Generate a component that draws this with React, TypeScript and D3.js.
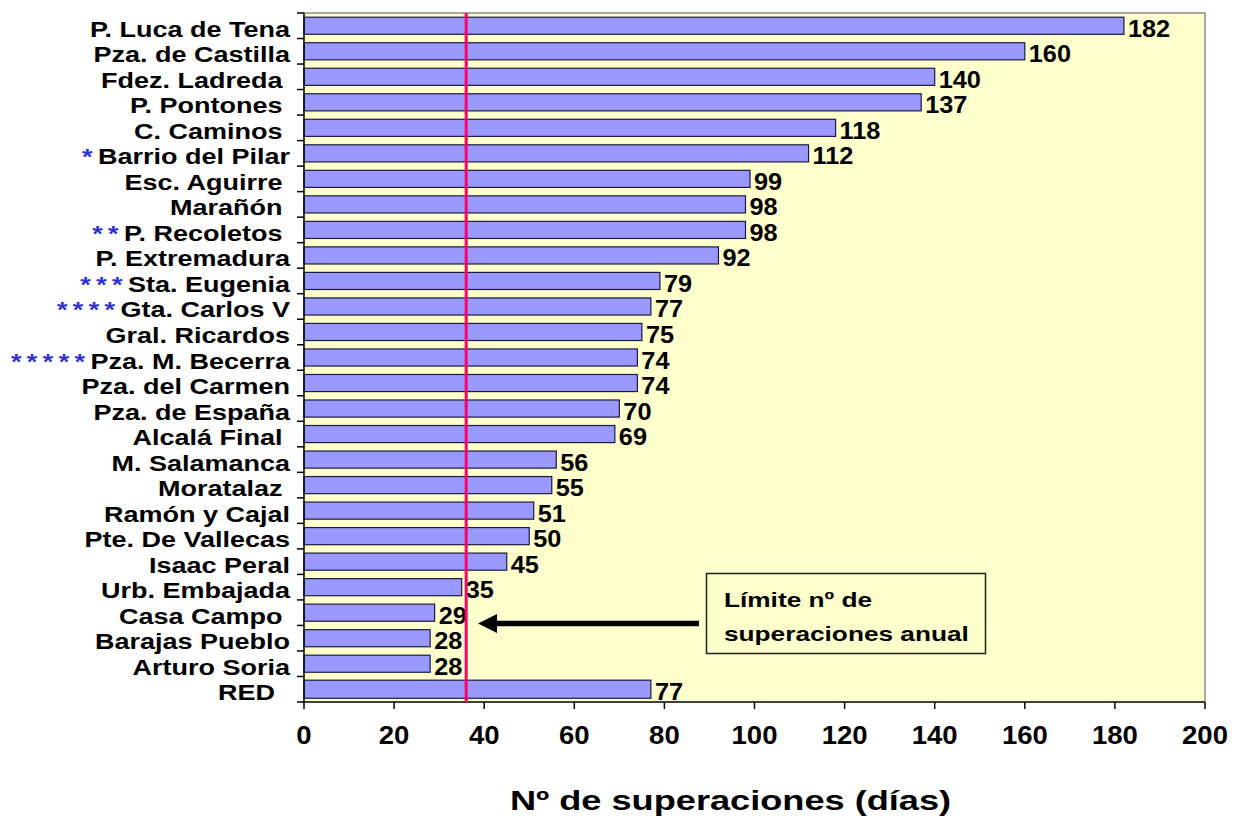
import React from "react";
import * as d3 from "d3";

// Stations, top to bottom
const stations = [
  "P. Luca de Tena",
  "Pza. de Castilla",
  "Fdez. Ladreda ",
  "P. Pontones ",
  "C. Caminos ",
  "Barrio del Pilar",
  "Esc. Aguirre ",
  "Marañón ",
  "P. Recoletos ",
  "P. Extremadura",
  "Sta. Eugenia",
  "Gta. Carlos V",
  "Gral. Ricardos",
  "Pza. M. Becerra",
  "Pza. del Carmen",
  "Pza. de España",
  "Alcalá Final ",
  "M. Salamanca",
  "Moratalaz ",
  "Ramón y Cajal",
  "Pte. De Vallecas",
  "Isaac Peral",
  "Urb. Embajada",
  "Casa Campo ",
  "Barajas Pueblo",
  "Arturo Soria",
  "RED  ",
];

// Footnote markers shown before some station names
const markers = [
  "", "", "", "", "", "*", "", "", "**", "", "***", "****", "", "*****",
  "", "", "", "", "", "", "", "", "", "", "", "", "",
];

// Days above the limit value
const exceedances = [
  182, 160, 140, 137, 118, 112, 99, 98, 98, 92, 79, 77, 75, 74, 74, 70, 69,
  56, 55, 51, 50, 45, 35, 29, 28, 28, 77,
];

const xTicks = [0, 20, 40, 60, 80, 100, 120, 140, 160, 180, 200];
const annualLimit = 36;
const noteLines = ["Límite nº de", "superaciones anual"];
const axisTitle = "Nº de superaciones (días)";

const W = 1235;
const H = 818;
const plot = { left: 304, right: 1205, top: 13, bottom: 702 };
const FONT = "'Liberation Sans', Arial, Helvetica, sans-serif";

export default function App() {
  const x = d3.scaleLinear().domain([0, 200]).range([plot.left, plot.right]);
  const y = d3
    .scaleBand<number>()
    .domain(d3.range(stations.length))
    .range([plot.top, plot.bottom])
    .paddingInner(0.33)
    .paddingOuter(0.165);
  const step = y.step();
  const boundaries = d3.range(stations.length + 1).map((i) => plot.top + i * step);

  const limitX = x(annualLimit);

  return (
    <svg
      width={W}
      height={H}
      style={{ position: "absolute", left: 0, top: 0, background: "#fff" }}
      fontFamily={FONT}
      fontWeight="bold"
    >
      {/* plot area */}
      <rect
        x={plot.left}
        y={plot.top}
        width={plot.right - plot.left}
        height={plot.bottom - plot.top}
        fill="#FFFFCC"
      />
      <path
        d={`M${plot.left},${plot.top}H${plot.right}V${plot.bottom}`}
        fill="none"
        stroke="#8c8c8c"
        strokeWidth={1.5}
      />

      {/* bars */}
      {exceedances.map((v, i) => {
        const isLast = i === stations.length - 1;
        const bw = y.bandwidth();
        const h = isLast ? bw + 1 : bw;
        const cy = (y(i) as number) + bw / 2;
        return (
          <rect
            key={i}
            x={x(0)}
            y={cy - h / 2}
            width={x(v) - x(0)}
            height={h}
            fill="#9999FF"
            stroke="#1a1a40"
            strokeWidth={1.2}
          />
        );
      })}

      {/* value labels */}
      {exceedances.map((v, i) => {
        const cy = (y(i) as number) + y.bandwidth() / 2;
        return (
          <text
            key={i}
            transform={`translate(${x(v) + 4},${cy + 11}) scale(1.1,1)`}
            fontSize={23}
            fill="#000"
          >
            {v}
          </text>
        );
      })}

      {/* category labels */}
      {stations.map((s, i) => {
        const cy = (y(i) as number) + y.bandwidth() / 2;
        return (
          <text
            key={i}
            transform={`translate(290,${cy + 11}) scale(1.2,1)`}
            textAnchor="end"
            fontSize={22.5}
            fill="#000"
            style={{ whiteSpace: "pre" }}
          >
            {markers[i] && (
              <tspan fill="#3333CC" letterSpacing={4.5}>
                {markers[i]}
              </tspan>
            )}
            {s}
          </text>
        );
      })}

      {/* axes */}
      <line x1={plot.left} x2={plot.left} y1={plot.top} y2={plot.bottom} stroke="#000" strokeWidth={1.5} />
      <line x1={plot.left} x2={plot.right} y1={plot.bottom} y2={plot.bottom} stroke="#000" strokeWidth={1.5} />
      {boundaries.map((b, i) => (
        <line key={i} x1={plot.left - 7} x2={plot.left} y1={b} y2={b} stroke="#000" strokeWidth={1.5} />
      ))}
      {xTicks.map((t) => (
        <g key={t}>
          <line x1={x(t)} x2={x(t)} y1={plot.bottom} y2={plot.bottom + 7} stroke="#000" strokeWidth={1.5} />
          <text
            transform={`translate(${x(t)},743.5) scale(1.1,1)`}
            textAnchor="middle"
            fontSize={25}
            fill="#000"
          >
            {t}
          </text>
        </g>
      ))}

      {/* annual limit */}
      <line
        x1={limitX}
        x2={limitX}
        y1={plot.top}
        y2={plot.bottom}
        stroke="#FF0066"
        strokeWidth={3}
      />

      {/* note box and arrow */}
      <rect x={706.5} y={573.5} width={279} height={80} fill="#FFFFCC" stroke="#222" strokeWidth={1.5} />
      {noteLines.map((t, i) => (
        <text
          key={i}
          transform={`translate(724,${607.3 + i * 33.5}) scale(1.28,1)`}
          fontSize={20.5}
          fill="#000"
        >
          {t}
        </text>
      ))}
      <line x1={699} x2={492} y1={623.5} y2={623.5} stroke="#000" strokeWidth={5.5} />
      <path d="M478,623.5 L497,614 L497,633 Z" fill="#000" />

      {/* axis title */}
      <text
        transform={`translate(730.5,809.5) scale(1.34,1)`}
        textAnchor="middle"
        fontSize={27}
        fill="#000"
      >
        {axisTitle}
      </text>
    </svg>
  );
}
